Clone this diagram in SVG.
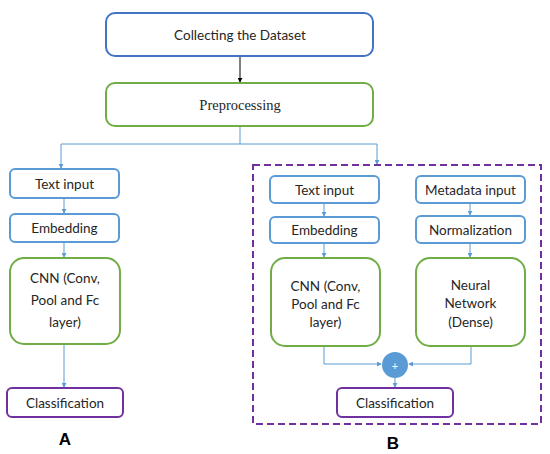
<svg xmlns="http://www.w3.org/2000/svg" width="550" height="454" viewBox="0 0 550 454">
<style>
text{font-family:Lato,"Liberation Sans",sans-serif;font-size:13.5px;fill:#262626;text-anchor:middle;dominant-baseline:central}
.bl{fill:#fff;stroke:#5b9bd5;stroke-width:2}
.bd{fill:#fff;stroke:#4472c4;stroke-width:2}
.gr{fill:#fff;stroke:#70ad47;stroke-width:2}
.pu{fill:#fff;stroke:#7030a0;stroke-width:2}
.c{fill:none;stroke:#5b9bd5;stroke-width:1}
</style>
<defs>
<marker id="ab" viewBox="0 0 6 6" refX="5" refY="3" markerWidth="5" markerHeight="5" orient="auto"><path d="M0,0L6,3L0,6z" fill="#5b9bd5"/></marker>
<marker id="ak" viewBox="0 0 6 6" refX="5" refY="3" markerWidth="5" markerHeight="5" orient="auto"><path d="M0,0L6,3L0,6z" fill="#000"/></marker>
</defs>
<rect width="550" height="454" fill="#fff"/>
<g id="connectors">
<line x1="240" y1="56" x2="240" y2="82" stroke="#000" stroke-width="1" marker-end="url(#ak)"/>
<polyline class="c" points="240,126 240,144 61,144 61,168" marker-end="url(#ab)"/>
<polyline class="c" points="240,144 377,144 377,164" marker-end="url(#ab)"/>
<line class="c" x1="64" y1="198" x2="64" y2="213" marker-end="url(#ab)"/>
<line class="c" x1="64" y1="242" x2="64" y2="257" marker-end="url(#ab)"/>
<line class="c" x1="64" y1="344" x2="64" y2="387" marker-end="url(#ab)"/>
<line class="c" x1="324" y1="203" x2="324" y2="216" marker-end="url(#ab)"/>
<line class="c" x1="324" y1="243" x2="324" y2="257" marker-end="url(#ab)"/>
<line class="c" x1="470" y1="203" x2="470" y2="215" marker-end="url(#ab)"/>
<line class="c" x1="470" y1="243" x2="470" y2="257" marker-end="url(#ab)"/>
<polyline class="c" points="324,346 324,364 381,364" marker-end="url(#ab)"/>
<polyline class="c" points="471,346 471,364 409,364" marker-end="url(#ab)"/>
<line class="c" x1="395" y1="377" x2="395" y2="387" marker-end="url(#ab)"/>
</g>
<g id="collect"><rect class="bd" x="106" y="13" width="267" height="43" rx="9"/><text x="240" y="34.5">Collecting the Dataset</text></g>
<g id="preprocess"><rect class="gr" x="106" y="83" width="267" height="43" rx="9"/><text x="240" y="105" style="font-family:'Liberation Serif',serif;font-size:14.5px">Preprocessing</text></g>
<g id="a-text"><rect class="bl" x="10" y="169" width="109" height="29" rx="5"/><text x="64.5" y="183.5">Text input</text></g>
<g id="a-embed"><rect class="bl" x="10" y="214" width="109" height="28" rx="5"/><text x="64.5" y="228">Embedding</text></g>
<g id="a-cnn"><rect class="gr" x="10" y="258" width="110" height="86" rx="14"/><text x="65" y="278">CNN (Conv,</text><text x="65" y="300">Pool and Fc</text><text x="65" y="322">layer)</text></g>
<g id="a-class"><rect class="pu" x="7" y="388" width="116" height="29" rx="5"/><text x="65" y="402.5">Classification</text></g>
<text x="65" y="439" style="font-family:'Liberation Sans',sans-serif;font-weight:bold;font-size:17px;fill:#000">A</text>
<g id="b-frame"><rect x="253" y="165" width="288" height="259" fill="none" stroke="#7030a0" stroke-width="2" stroke-dasharray="7,4"/></g>
<g id="b-text"><rect class="bl" x="270" y="176" width="109" height="27" rx="5"/><text x="324.5" y="189.5">Text input</text></g>
<g id="b-embed"><rect class="bl" x="270" y="217" width="109" height="26" rx="5"/><text x="324.5" y="230">Embedding</text></g>
<g id="b-cnn"><rect class="gr" x="271" y="258" width="109" height="88" rx="14"/><text x="325.5" y="286">CNN (Conv,</text><text x="325.5" y="304">Pool and Fc</text><text x="325.5" y="322">layer)</text></g>
<g id="b-meta"><rect class="bl" x="416" y="176" width="109" height="27" rx="5"/><text x="470.5" y="189.5">Metadata input</text></g>
<g id="b-norm"><rect class="bl" x="416" y="216" width="109" height="27" rx="5"/><text x="470.5" y="229.5">Normalization</text></g>
<g id="b-nn"><rect class="gr" x="416" y="258" width="109" height="88" rx="14"/><text x="470.5" y="285">Neural</text><text x="470.5" y="303">Network</text><text x="470.5" y="322">(Dense)</text></g>
<g id="b-plus"><circle cx="395" cy="365" r="13" fill="#5b9bd5"/><text x="395" y="365" style="fill:#fff;font-size:11px">+</text></g>
<g id="b-class"><rect class="pu" x="337" y="388" width="116" height="29" rx="5"/><text x="395" y="402.5">Classification</text></g>
<text x="393" y="443" style="font-family:'Liberation Sans',sans-serif;font-weight:bold;font-size:17px;fill:#000">B</text>
</svg>
